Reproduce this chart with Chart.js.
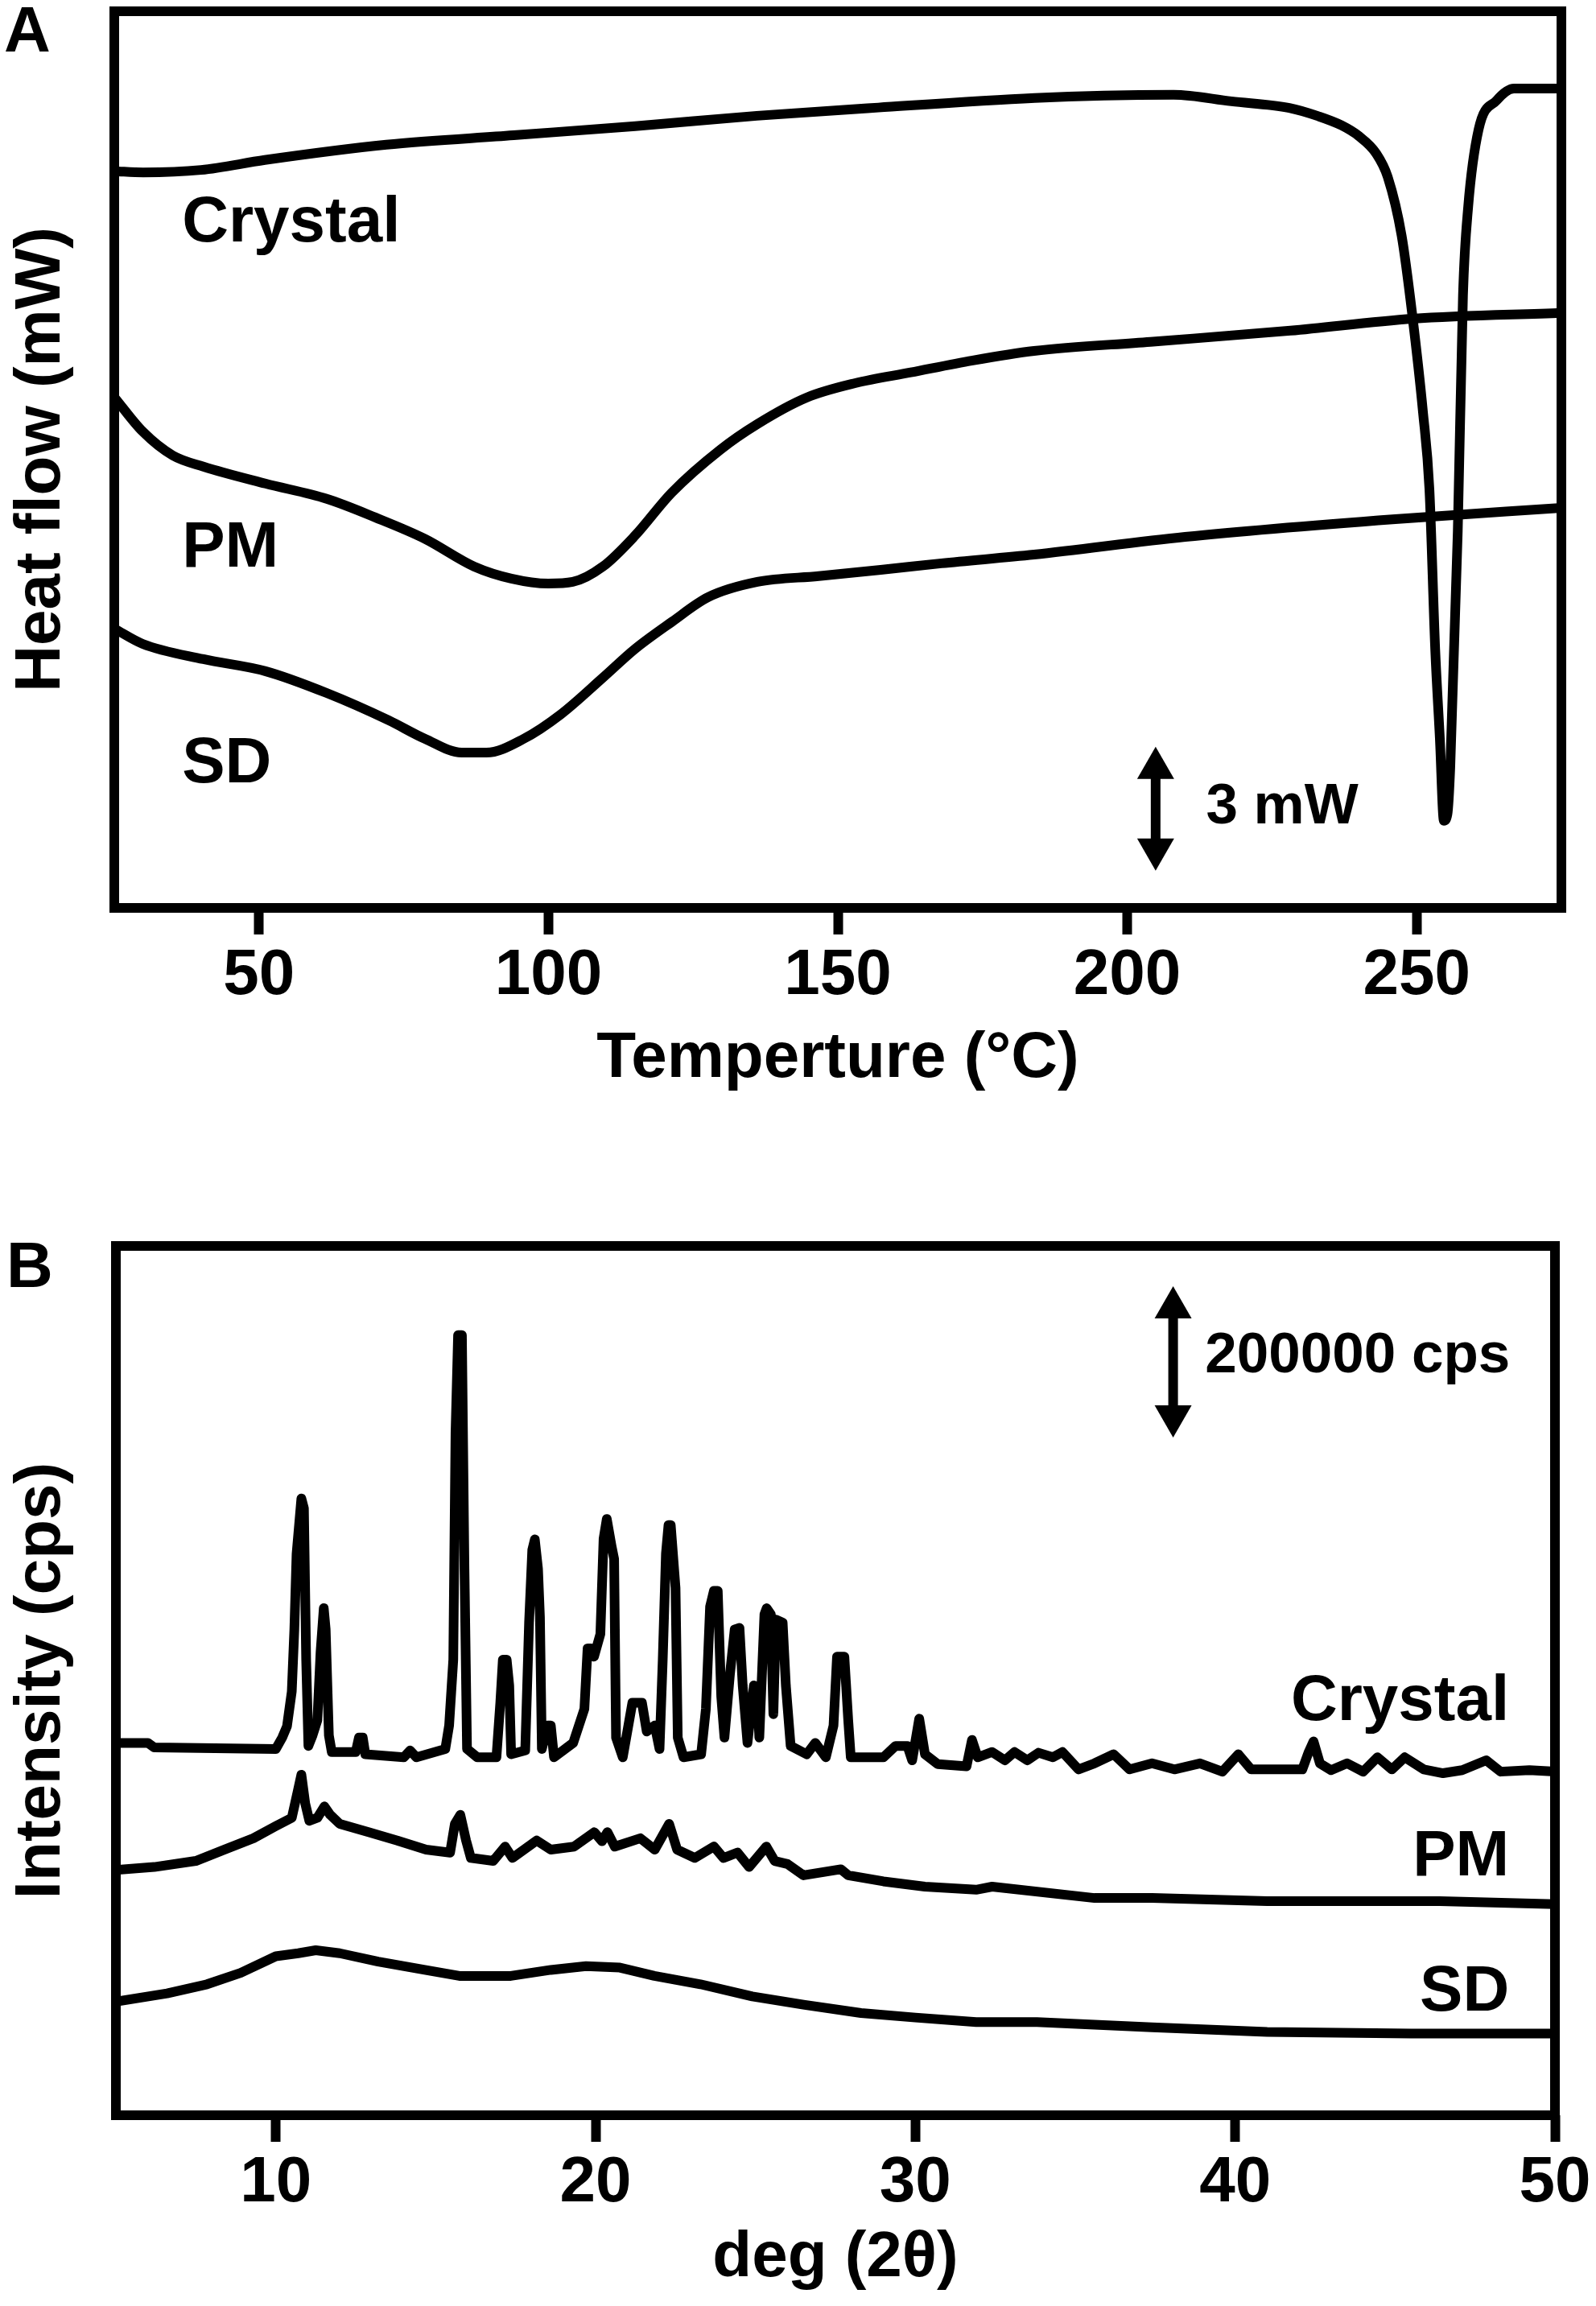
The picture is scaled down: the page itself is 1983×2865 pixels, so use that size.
<!DOCTYPE html>
<html>
<head>
<meta charset="utf-8">
<script src="https://cdn.jsdelivr.net/npm/chart.js@4/dist/chart.umd.min.js"></script>
<style>
  html, body { margin: 0; padding: 0; background: #fff; }
  canvas { display: block; }
</style>
</head>
<body>
<canvas id="dsc" width="1983" height="1420"></canvas>
<canvas id="xrd" width="1983" height="1445"></canvas>
<script>
// ---- panel A : DSC ----
const tempTicks = [50, 100, 150, 200, 250];

const crystalT = [25, 30, 40, 51, 72, 94, 115, 136, 157, 184, 196, 208, 218, 228, 233, 237, 240, 243, 245,
  247.4, 249.2, 251.1, 252.2, 253.2, 254, 254.7, 255.3, 255.8, 257.1, 258, 258.9, 260.7, 263.8, 266.8, 275];
const crystalHF = [17.77, 17.74, 17.8, 18.04, 18.41, 18.64, 18.86, 19.11, 19.31, 19.54, 19.6, 19.62, 19.46, 19.3, 19.1, 18.88, 18.62, 18.2, 17.63,
  16.21, 14.34, 11.92, 10.07, 6.2, 4.05, 2.05, 2.2, 3.33, 9.06, 14.77, 16.91, 18.78, 19.48, 19.77, 19.77];

const pmT = [25, 29.9, 35.1, 40.4, 51.1, 61.7, 70.1, 78.7, 87.2, 93.6, 100, 104.2, 109.4, 114.9, 121.3, 129.7,
  136.1, 144.6, 153, 162.6, 173.3, 183.9, 204, 228.2, 249.3, 275];
const pmHF = [12.3, 11.47, 10.89, 10.62, 10.21, 9.84, 9.39, 8.87, 8.2, 7.91, 7.79, 7.83, 8.2, 8.94, 9.99, 11.03,
  11.65, 12.29, 12.64, 12.9, 13.19, 13.42, 13.64, 13.91, 14.2, 14.34];

const sdT = [25, 29.9, 40.4, 51.1, 61.7, 72.4, 78.7, 85, 89.3, 95.7, 102.1, 109.4, 114.9, 121.3, 127.6, 136.1,
  146.7, 157.4, 167.9, 183.9, 210, 246.3, 275];
const sdHF = [6.7, 6.33, 5.96, 5.67, 5.14, 4.48, 4.03, 3.7, 3.7, 4.03, 4.62, 5.51, 6.2, 6.86, 7.46, 7.83,
  7.97, 8.12, 8.28, 8.49, 8.92, 9.35, 9.62];

// ---- panel B : XRD ----
const degTicks = [10, 20, 30, 40, 50];

const xCrystalDeg = [5, 6, 6.2, 10, 10.2, 10.35, 10.5, 10.58, 10.65, 10.8, 10.88, 10.95, 11.02, 11.15, 11.3, 11.4, 11.5,
  11.56, 11.66, 11.75, 12.5, 12.6, 12.72, 12.8, 14, 14.2, 14.4, 15.3, 15.42, 15.55, 15.62, 15.7, 15.82, 15.9, 15.98,
  16.3, 16.9, 17.02, 17.1, 17.22, 17.3, 17.36, 17.8, 17.92, 18.02, 18.1, 18.2, 18.26, 18.32, 18.5, 18.6, 18.7,
  19.3, 19.65, 19.75, 19.85, 19.95, 20.15, 20.25, 20.35, 20.5, 20.58, 20.64, 20.85, 21.15, 21.45, 21.6, 21.85,
  22, 22.1, 22.2, 22.28, 22.35, 22.5, 22.57, 22.75, 23.3, 23.45, 23.58, 23.7, 23.82, 23.93, 24.03, 24.2, 24.35,
  24.5, 24.6, 24.75, 24.95, 25.05, 25.12, 25.28, 25.35, 25.48, 25.56, 25.64, 25.85, 25.95, 26.1, 26.6, 26.87,
  27.2, 27.44, 27.55, 27.78, 27.9, 27.98, 29, 29.38, 29.75, 29.9, 30.12, 30.3, 30.7, 31.6, 31.77, 31.95, 32.4,
  32.8, 33.1, 33.5, 33.85, 34.3, 34.6, 35.1, 35.6, 36.2, 36.7, 37.4, 38.1, 38.9, 39.6, 40.1, 40.5, 42.1, 42.3,
  42.45, 42.65, 43, 43.5, 44, 44.45, 44.9, 45.3, 45.9, 46.5, 47.1, 47.85, 48.3, 49.2, 50];
const xCrystalCps = [490000, 490000, 484000, 482000, 497000, 512000, 558000, 640000, 740000, 813000, 800000, 600000, 486000, 500000, 520000, 610000, 668000,
  640000, 500000, 478000, 478000, 497000, 497000, 475000, 471000, 480000, 471000, 482000, 513000, 600000, 900000, 1029000, 1029000, 720000, 482000,
  471000, 471000, 543000, 600000, 600000, 566000, 475000, 480000, 649000, 745000, 759000, 720000, 657000, 482000, 513000, 513000, 471000,
  490000, 535000, 615000, 615000, 604000, 634000, 760000, 786000, 750000, 733000, 497000, 471000, 543000, 543000, 505000, 513000,
  482000, 600000, 740000, 778000, 778000, 695000, 497000, 471000, 475000, 535000, 670000, 691000, 691000, 551000, 497000, 580000, 640000,
  642000, 566000, 490000, 566000, 560000, 497000, 660000, 668000, 660000, 528000, 653000, 649000, 566000, 486000, 475000, 490000,
  471000, 513000, 604000, 604000, 520000, 471000, 471000, 486000, 486000, 467000, 522000, 475000, 462000, 459000, 494000, 471000, 478000,
  467000, 478000, 467000, 477000, 471000, 478000, 455000, 463000, 475000, 455000, 463000, 455000, 463000, 452000, 475000, 455000, 455000, 478000,
  492000, 463000, 454000, 463000, 452000, 471000, 455000, 471000, 455000, 450000, 454000, 467000, 452000, 454000, 452000];

const xPmDeg = [5, 6.2, 7.5, 8.4, 9.3, 10, 10.5, 10.68, 10.8, 10.92, 11.05, 11.3, 11.52, 11.7, 12, 12.9, 13.8, 14.7,
  15.45, 15.6, 15.77, 15.95, 16.1, 16.8, 17.17, 17.4, 18.16, 18.6, 19.33, 19.96, 20.2, 20.37, 20.6, 21.4, 21.85,
  22.3, 22.55, 23.1, 23.7, 24, 24.44, 24.8, 25.34, 25.6, 26, 26.5, 27.67, 27.9, 29, 30.3, 31.9, 32.4, 35.6, 37.4,
  41, 42.8, 46.4, 50];
const xPmCps = [322000, 326000, 334000, 349000, 364000, 380000, 391000, 425000, 448000, 410000, 387000, 391000, 406000, 395000, 383000, 372000, 361000, 349000,
  345000, 383000, 395000, 361000, 338000, 334000, 353000, 338000, 361000, 349000, 353000, 372000, 360000, 372000, 353000, 364000, 349000,
  383000, 349000, 338000, 353000, 338000, 345000, 326000, 353000, 334000, 330000, 315000, 323000, 315000, 307000, 300000, 296000, 300000, 285000, 285000,
  281000, 281000, 281000, 277000];

const xSdDeg = [5, 6.6, 7.85, 8.9, 10, 10.7, 11.25, 12, 13.2, 14.66, 15.74, 17.35, 18.6, 19.7, 20.76, 21.84, 23.28,
  24.9, 26.5, 28.3, 30, 31.9, 33.8, 37.4, 41, 45.5, 50];
const xSdCps = [148000, 159000, 171000, 186000, 208000, 212000, 216000, 212000, 201000, 190000, 182000, 182000, 190000, 195000, 193000, 182000, 171000,
  155000, 144000, 133000, 127000, 121000, 121000, 114000, 108000, 106000, 106000];

const FONT = '"Liberation Sans", Arial, Helvetica, sans-serif';

function pts(xs, ys) {
  return xs.map((x, i) => ({ x: x, y: ys[i] }));
}

function serie(xs, ys, smooth) {
  return {
    data: pts(xs, ys),
    borderColor: '#000',
    borderWidth: 12,
    pointRadius: 0,
    borderJoinStyle: 'round',
    borderCapStyle: 'round',
    tension: 0,
    cubicInterpolationMode: smooth ? 'monotone' : 'default',
    fill: false
  };
}

// box around the plot area
const framePlugin = {
  id: 'frame',
  afterDraw(chart) {
    const { ctx, chartArea } = chart;
    ctx.save();
    ctx.strokeStyle = '#000';
    ctx.lineWidth = 12;
    ctx.strokeRect(chartArea.left, chartArea.top, chartArea.right - chartArea.left, chartArea.bottom - chartArea.top);
    ctx.restore();
  }
};

// curve names, scale bar and panel letter
const notesPlugin = {
  id: 'notes',
  afterDatasetsDraw(chart, args, opts) {
    const ctx = chart.ctx;
    const xs = chart.scales.x;
    const ys = chart.scales.y;
    ctx.save();
    ctx.fillStyle = '#000';
    ctx.textBaseline = 'alphabetic';

    opts.labels.forEach(l => {
      ctx.font = 'bold ' + l.size + 'px ' + FONT;
      ctx.textAlign = l.align;
      ctx.fillText(l.text, xs.getPixelForValue(l.x), ys.getPixelForValue(l.y));
    });

    const a = opts.arrow;
    const ax = xs.getPixelForValue(a.x);
    const y1 = ys.getPixelForValue(a.top);
    const y2 = ys.getPixelForValue(a.bottom);
    const hw = 23, hh = 40;
    ctx.fillRect(ax - 6, y1 + hh - 2, 12, (y2 - y1) - 2 * hh + 4);
    ctx.beginPath();
    ctx.moveTo(ax, y1); ctx.lineTo(ax + hw, y1 + hh); ctx.lineTo(ax - hw, y1 + hh); ctx.closePath();
    ctx.fill();
    ctx.beginPath();
    ctx.moveTo(ax, y2); ctx.lineTo(ax + hw, y2 - hh); ctx.lineTo(ax - hw, y2 - hh); ctx.closePath();
    ctx.fill();

    ctx.font = 'bold 80px ' + FONT;
    ctx.textAlign = 'left';
    ctx.fillText(opts.letter.text, opts.letter.px, opts.letter.py);
    ctx.restore();
  }
};

function makeOptions(cfg) {
  return {
    responsive: false,
    devicePixelRatio: 1,
    animation: false,
    events: [],
    layout: { padding: { top: cfg.padTop, right: cfg.padRight, left: 0, bottom: 0 } },
    plugins: {
      legend: { display: false },
      tooltip: { enabled: false },
      notes: cfg.notes
    },
    scales: {
      x: {
        type: 'linear',
        min: cfg.xMin,
        max: cfg.xMax,
        afterBuildTicks: s => { s.ticks = cfg.ticks.map(v => ({ value: v })); },
        afterFit: s => { s.height = cfg.xHeight; },
        border: { display: false },
        grid: { drawOnChartArea: false, drawTicks: true, tickLength: 33, tickWidth: 12, tickColor: '#000', color: '#000' },
        ticks: { autoSkip: false, maxRotation: 0, padding: 4, color: '#000', font: { family: FONT, size: 80, weight: 'bold' } },
        title: { display: true, text: cfg.xTitle, color: '#000', font: { family: FONT, size: 80, weight: 'bold' }, padding: { top: 0, bottom: cfg.xTitlePad } }
      },
      y: {
        type: 'linear',
        min: cfg.yMin,
        max: cfg.yMax,
        afterFit: s => { s.width = cfg.yWidth; },
        border: { display: false },
        grid: { display: false },
        ticks: { display: false },
        title: { display: true, text: cfg.yTitle, color: '#000', font: { family: FONT, size: 80, weight: 'bold' }, padding: { top: 4, bottom: 0 } }
      }
    }
  };
}

new Chart(document.getElementById('dsc'), {
  type: 'line',
  data: {
    datasets: [
      serie(crystalT, crystalHF, true),
      serie(pmT, pmHF, true),
      serie(sdT, sdHF, true)
    ]
  },
  options: makeOptions({
    padTop: 14, padRight: 43,
    xMin: 25, xMax: 275, ticks: tempTicks,
    yMin: -0.06, yMax: 21.64,
    xHeight: 292, yWidth: 142,
    xTitle: 'Temperture (°C)', xTitlePad: 56,
    yTitle: 'Heat flow (mW)',
    notes: {
      labels: [
        { text: 'Crystal', x: 36.7, y: 16.07, align: 'left', size: 80 },
        { text: 'PM', x: 36.7, y: 8.2, align: 'left', size: 80 },
        { text: 'SD', x: 36.7, y: 2.98, align: 'left', size: 80 },
        { text: '3 mW', x: 213.6, y: 1.99, align: 'left', size: 71 }
      ],
      arrow: { x: 204.9, top: 3.84, bottom: 0.84 },
      letter: { text: 'A', px: 5, py: 64 }
    }
  }),
  plugins: [framePlugin, notesPlugin]
});

new Chart(document.getElementById('xrd'), {
  type: 'line',
  data: {
    datasets: [
      serie(xCrystalDeg, xCrystalCps, false),
      serie(xPmDeg, xPmCps, false),
      serie(xSdDeg, xSdCps, false)
    ]
  },
  options: makeOptions({
    padTop: 128, padRight: 51,
    xMin: 5, xMax: 50, ticks: degTicks,
    yMin: -2100, yMax: 1146800,
    xHeight: 237, yWidth: 144,
    xTitle: 'deg (2θ)', xTitlePad: 11,
    yTitle: 'Intensity (cps)',
    notes: {
      labels: [
        { text: 'Crystal', x: 48.57, y: 520200, align: 'right', size: 80 },
        { text: 'PM', x: 48.57, y: 314900, align: 'right', size: 80 },
        { text: 'SD', x: 48.57, y: 136200, align: 'right', size: 80 },
        { text: '200000 cps', x: 39.06, y: 979800, align: 'left', size: 71 }
      ],
      arrow: { x: 38.06, top: 1093600, bottom: 893600 },
      letter: { text: 'B', px: 8, py: 179 }
    }
  }),
  plugins: [framePlugin, notesPlugin]
});
</script>
</body>
</html>
